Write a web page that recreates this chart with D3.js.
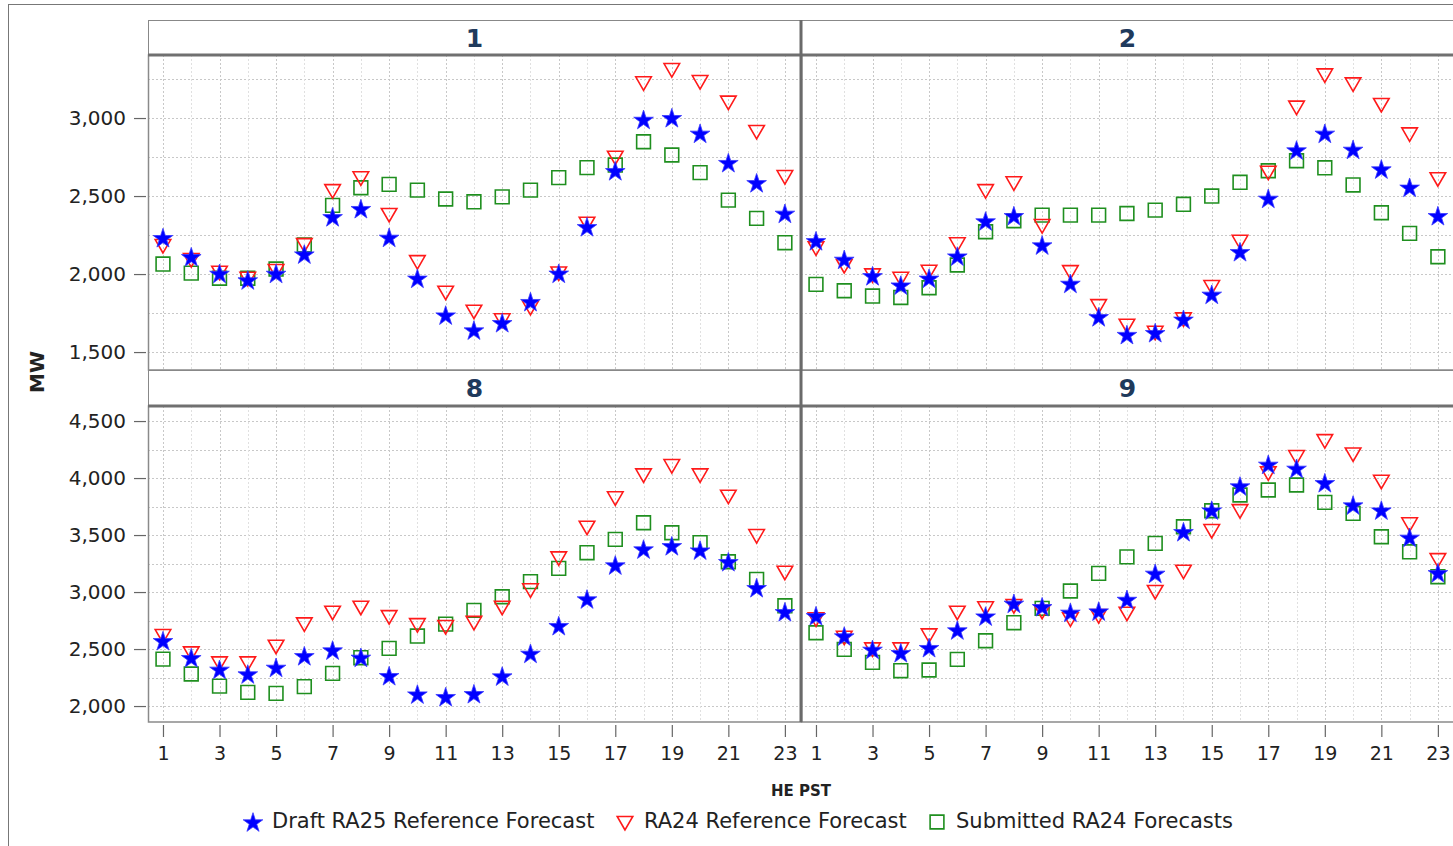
<!DOCTYPE html>
<meta charset="utf-8">
<style>
body { margin: 0; background: #fff; }
text { font-family: "DejaVu Sans", "Open Sans", sans-serif; fill: #222; }
.grid line { stroke: #c8c8c8; stroke-dasharray: 2,2; stroke-width: 1; }
.grid line.minor { stroke: #e0e0e0; }
.frame { fill: none; stroke: #777; }
</style>
<body>
<div id="chart"></div>
</body>
<script src="https://cdn.jsdelivr.net/npm/d3@7"></script>
<script>

var W = 1453, H = 846;

var hours = d3.range(1, 24);
var panelNames = ["1", "2", "8", "9"];
var seriesNames = ["Draft RA25 Reference Forecast", "RA24 Reference Forecast", "Submitted RA24 Forecasts"];
var topTicks = [1500, 2000, 2500, 3000];
var bottomTicks = [2000, 2500, 3000, 3500, 4000, 4500];
var xTicks = [1, 3, 5, 7, 9, 11, 13, 15, 17, 19, 21, 23];

// panel 1
var p1Draft = [2233, 2111, 2004, 1962, 2004, 2128, 2367, 2419, 2235, 1973, 1737, 1641, 1688, 1823, 2005, 2303, 2662, 2991, 3002, 2902, 2714, 2585, 2389];
var p1RA24  = [2186, 2096, 2015, 1976, 2026, 2192, 2538, 2620, 2385, 2083, 1887, 1765, 1710, 1790, 2010, 2329, 2752, 3229, 3314, 3237, 3105, 2917, 2628];
var p1Sub   = [2064, 2006, 1973, 1973, 2032, 2186, 2440, 2553, 2575, 2538, 2481, 2463, 2495, 2538, 2618, 2682, 2699, 2848, 2763, 2650, 2474, 2357, 2201];
// panel 2
var p2Draft = [2213, 2094, 1989, 1929, 1973, 2115, 2340, 2374, 2186, 1940, 1726, 1612, 1624, 1710, 1870, 2143, 2485, 2795, 2902, 2799, 2673, 2556, 2374];
var p2RA24  = [2171, 2058, 1998, 1976, 2021, 2197, 2538, 2588, 2314, 2019, 1801, 1675, 1630, 1716, 1923, 2213, 2656, 3073, 3280, 3222, 3090, 2902, 2614];
var p2Sub   = [1934, 1893, 1859, 1850, 1912, 2058, 2271, 2342, 2378, 2378, 2378, 2388, 2410, 2447, 2500, 2588, 2662, 2726, 2681, 2571, 2393, 2261, 2111];
// panel 8
var p8Draft = [2573, 2424, 2322, 2281, 2339, 2441, 2491, 2427, 2266, 2105, 2082, 2108, 2263, 2462, 2705, 2939, 3237, 3377, 3406, 3368, 3266, 3038, 2827];
var p8RA24  = [2623, 2471, 2383, 2383, 2529, 2725, 2827, 2871, 2789, 2719, 2702, 2738, 2871, 3024, 3304, 3573, 3831, 4032, 4114, 4032, 3845, 3500, 3178];
var p8Sub   = [2412, 2281, 2175, 2120, 2111, 2170, 2287, 2424, 2506, 2614, 2719, 2839, 2959, 3091, 3208, 3345, 3462, 3608, 3520, 3433, 3266, 3111, 2880];
// panel 9
var p9Draft = [2792, 2614, 2497, 2468, 2512, 2667, 2789, 2901, 2871, 2822, 2833, 2935, 3164, 3529, 3719, 3930, 4120, 4085, 3959, 3763, 3719, 3480, 3169];
var p9RA24  = [2769, 2608, 2506, 2506, 2629, 2827, 2866, 2886, 2836, 2769, 2798, 2819, 3009, 3187, 3544, 3719, 4050, 4193, 4333, 4216, 3976, 3603, 3289];
var p9Sub   = [2643, 2497, 2383, 2310, 2316, 2409, 2573, 2731, 2857, 3009, 3164, 3308, 3427, 3573, 3713, 3851, 3895, 3939, 3787, 3690, 3485, 3353, 3134];

var panelData = [
  [p1Draft, p1RA24, p1Sub],
  [p2Draft, p2RA24, p2Sub],
  [p8Draft, p8RA24, p8Sub],
  [p9Draft, p9RA24, p9Sub]
];

var colX = [148, 801], colW = 653;
var rows = [
  { strip: 20, top: 55, bottom: 370, domain: [1385, 3404], ticks: topTicks },
  { strip: 370, top: 406, bottom: 722, domain: [1860, 4632], ticks: bottomTicks }
];

var svg = d3.select("#chart").append("svg")
    .attr("width", W)
    .attr("height", H);

// outer frame
svg.append("rect").attr("class", "frame")
    .attr("x", 8.5).attr("y", 4.5)
    .attr("width", W).attr("height", H)
    .attr("stroke", "#888");

var starSym = d3.symbol().type(d3.symbolStar).size(120)();
var triSym = d3.symbol().type(d3.symbolTriangle).size(105)();
var sqSym = d3.symbol().type(d3.symbolSquare).size(190)();

function drawMarker(g, k, x, y) {
  if (k == 0) {
    g.append("path").attr("d", starSym)
      .attr("transform", "translate(" + x + "," + (y + 1) + ")")
      .attr("fill", "#0000ff").attr("stroke", "#3a3aff").attr("stroke-width", 0.8);
  } else if (k == 1) {
    g.append("path").attr("d", triSym)
      .attr("transform", "translate(" + x + "," + (y - 1) + ") rotate(180)")
      .attr("fill", "none").attr("stroke", "#ff1a1a").attr("stroke-width", 1.6);
  } else {
    g.append("path").attr("d", sqSym)
      .attr("transform", "translate(" + x + "," + y + ")")
      .attr("fill", "none").attr("stroke", "#1f8f1f").attr("stroke-width", 1.6);
  }
}

panelNames.forEach(function(name, i) {
  var r = rows[Math.floor(i / 2)], c = i % 2;
  var x0 = colX[c];
  var x = d3.scaleLinear().domain([0.47, 23.57]).range([x0, x0 + colW]);
  var y = d3.scaleLinear().domain(r.domain).range([r.bottom, r.top]);

  var g = svg.append("g");

  // grid
  var grid = g.append("g").attr("class", "grid");
  grid.selectAll(".h").data(d3.range(1500, 4751, 250).filter(function(v) {
      return v > r.domain[0] && v < r.domain[1]; }))
    .enter().append("line")
      .attr("x1", x0).attr("x2", x0 + colW)
      .attr("y1", function(d) { return Math.round(y(d)) + 0.5; })
      .attr("y2", function(d) { return Math.round(y(d)) + 0.5; });
  grid.selectAll(".v").data(hours)
    .enter().append("line")
      .attr("class", function(d) { return d % 2 ? "" : "minor"; })
      .attr("x1", function(d) { return Math.round(x(d)) + 0.5; })
      .attr("x2", function(d) { return Math.round(x(d)) + 0.5; })
      .attr("y1", r.top).attr("y2", r.bottom);

  // strip
  g.append("rect")
    .attr("x", x0 + 0.5).attr("y", r.strip + 0.5)
    .attr("width", colW).attr("height", r.top - r.strip)
    .attr("fill", "#fff").attr("stroke", "#888");
  g.append("text")
    .attr("x", x0 + colW / 2).attr("y", (r.strip + r.top) / 2 + 9)
    .attr("text-anchor", "middle")
    .style("font-size", "25px").style("font-weight", "bold").style("fill", "#1f3a5c")
    .text(name);

  // plot border
  g.append("rect")
    .attr("x", x0 + 0.5).attr("y", r.top)
    .attr("width", colW).attr("height", r.bottom - r.top)
    .attr("fill", "none").attr("stroke", "#8a8a8a").attr("stroke-width", 1.5);
  g.append("line")
    .attr("x1", x0).attr("x2", x0 + colW)
    .attr("y1", r.top).attr("y2", r.top)
    .attr("stroke", "#707070").attr("stroke-width", 3);

  // markers, in draw order
  [2, 1, 0].forEach(function(k) {
    var vals = panelData[i][k];
    hours.forEach(function(h, j) {
      drawMarker(g, k, x(h), y(vals[j]));
    });
  });

  // y axis (left column only)
  if (c == 0) {
    var ya = g.append("g").attr("transform", "translate(" + (x0 - 2) + ",0)")
      .call(d3.axisLeft(y).tickValues(r.ticks).tickFormat(d3.format(",")).tickSize(12).tickPadding(8));
    ya.select(".domain").remove();
    ya.selectAll("line").attr("stroke", "#666").attr("stroke-width", 1.2);
    ya.selectAll("text").style("font-size", "20px").style("fill", "#222")
      .attr("font-family", null);
  }

  // x axis (bottom row)
  if (r.bottom == 722) {
    var xa = g.append("g").attr("transform", "translate(0," + (r.bottom + 3) + ")")
      .call(d3.axisBottom(x).tickValues(xTicks).tickSize(12).tickPadding(10));
    xa.select(".domain").remove();
    xa.selectAll("line").attr("stroke", "#666").attr("stroke-width", 1.2);
    xa.selectAll("text").style("font-size", "19px").style("fill", "#222")
      .attr("font-family", null);
  }
});

// divider between columns
svg.append("line")
  .attr("x1", 801).attr("x2", 801)
  .attr("y1", 20).attr("y2", 722)
  .attr("stroke", "#6a6a6a").attr("stroke-width", 3);

// axis titles
svg.append("text")
  .attr("transform", "translate(44,372) rotate(-90)")
  .attr("text-anchor", "middle")
  .style("font-size", "20px").style("font-weight", "bold")
  .text("MW");
svg.append("text")
  .attr("x", 801).attr("y", 796)
  .attr("text-anchor", "middle")
  .style("font-size", "15px").style("font-weight", "bold")
  .text("HE PST");

// legend
var legendX = [253, 625, 937];
var legend = svg.append("g");
seriesNames.forEach(function(s, k) {
  drawMarker(legend, k, legendX[k], 822);
  legend.append("text")
    .attr("x", legendX[k] + 19).attr("y", 828)
    .style("font-size", "21px")
    .text(s);
});

</script>
